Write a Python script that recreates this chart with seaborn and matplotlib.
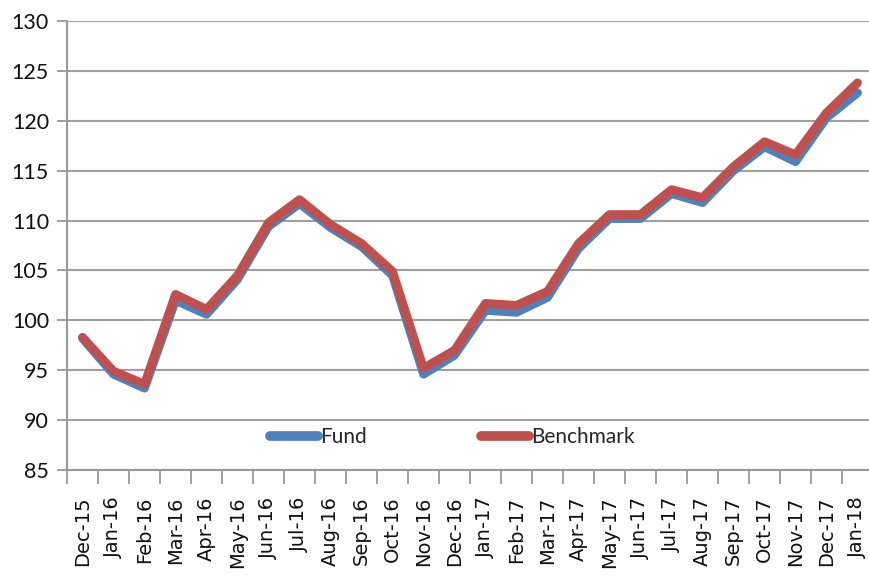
import matplotlib
matplotlib.use("Agg")
import matplotlib.pyplot as plt
import seaborn as sns
import pandas as pd
import numpy as np

months = ["Dec-15", "Jan-16", "Feb-16", "Mar-16", "Apr-16", "May-16", "Jun-16",
          "Jul-16", "Aug-16", "Sep-16", "Oct-16", "Nov-16", "Dec-16", "Jan-17",
          "Feb-17", "Mar-17", "Apr-17", "May-17", "Jun-17", "Jul-17", "Aug-17",
          "Sep-17", "Oct-17", "Nov-17", "Dec-17", "Jan-18"]
fund = [98.2, 94.6, 93.2, 102.0, 100.6, 104.1, 109.4, 111.7, 109.3, 107.4,
        104.5, 94.6, 96.5, 101.0, 100.8, 102.3, 107.2, 110.2, 110.2, 112.7,
        111.8, 115.0, 117.4, 115.9, 120.3, 122.8]
benchmark = [98.3, 94.9, 93.6, 102.6, 101.1, 104.5, 109.8, 112.1, 109.6, 107.7,
             104.9, 95.2, 97.0, 101.7, 101.5, 102.9, 107.7, 110.6, 110.6, 113.1,
             112.3, 115.4, 117.9, 116.6, 120.8, 123.8]
yticks = [85, 90, 95, 100, 105, 110, 115, 120, 125, 130]

sns.set_style("white")
plt.rcParams['font.family'] = ['DejaVu Sans']

df = pd.DataFrame({"x": np.arange(len(months)), "Fund": fund, "Benchmark": benchmark})
long = df.melt(id_vars="x", var_name="series", value_name="value")

W, H = 869, 575
fig = plt.figure(figsize=(W / 100, H / 100), dpi=100)
ax = fig.add_axes([67 / W, (H - 470) / H, (873 - 67) / W, (470 - 21) / H])

sns.lineplot(data=long, x="x", y="value", hue="series",
             palette={"Fund": "#4F81BD", "Benchmark": "#C0504D"},
             hue_order=["Fund", "Benchmark"], linewidth=6.3, ax=ax,
             solid_joinstyle="round", solid_capstyle="round", sort=False)

ax.set_xlim(-0.5, len(months) - 0.5)
ax.set_ylim(85, 130)
ax.set_yticks(yticks)
ax.set_yticklabels([str(v) for v in yticks],
                   fontfamily=['Lato', 'DejaVu Sans'], fontsize=15.5)
ax.yaxis.grid(True, color="#a0a0a0", linewidth=1.5)
ax.set_axisbelow(True)

# boundary ticks (major, unlabeled) and center labels (minor)
ax.set_xticks(np.arange(-0.5, len(months), 1.0))
ax.set_xticklabels([])
ax.set_xticks(np.arange(len(months)), minor=True)
ax.set_xticklabels(months, minor=True, rotation=90, fontsize=14, color="#111111")
ax.tick_params(axis="x", which="major", direction="out", length=10, width=1.3,
               color="#999999", bottom=True)
ax.tick_params(axis="x", which="minor", length=0, pad=19)
ax.tick_params(axis="y", direction="out", length=7, width=1.3, color="#999999",
               left=True, pad=6, labelcolor="#111111")

for s in ["top", "right"]:
    ax.spines[s].set_visible(False)
for s in ["left", "bottom"]:
    ax.spines[s].set_color("#999999")
    ax.spines[s].set_linewidth(1.5)

ax.set_xlabel("")
ax.set_ylabel("")

leg = ax.legend(loc="center", bbox_to_anchor=(0.478, 0.073), ncol=2, frameon=False,
                handlelength=2.3, columnspacing=5.5, handletextpad=0.1,
                prop={'family': ['Lato', 'DejaVu Sans'], 'size': 15})
for line in leg.get_lines():
    line.set_linewidth(7)
    line.set_solid_capstyle("round")

fig.savefig("out.png", dpi=100)
